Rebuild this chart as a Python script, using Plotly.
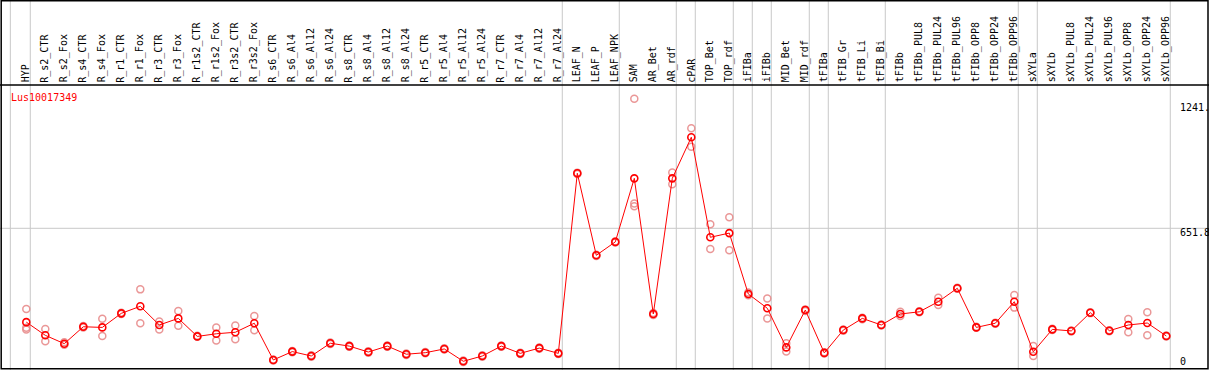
import plotly.graph_objects as go

title = "Lus10017349"

categories = [
    "HYP", "R_s2_CTR", "R_s2_Fox", "R_s4_CTR", "R_s4_Fox", "R_r1_CTR", "R_r1_Fox",
    "R_r3_CTR", "R_r3_Fox", "R_r1s2_CTR", "R_r1s2_Fox", "R_r3s2_CTR", "R_r3s2_Fox",
    "R_s6_CTR", "R_s6_Al4", "R_s6_Al12", "R_s6_Al24", "R_s8_CTR", "R_s8_Al4",
    "R_s8_Al12", "R_s8_Al24", "R_r5_CTR", "R_r5_Al4", "R_r5_Al12", "R_r5_Al24",
    "R_r7_CTR", "R_r7_Al4", "R_r7_Al12", "R_r7_Al24", "LEAF_N", "LEAF_P", "LEAF_NPK",
    "SAM", "AR_Bet", "AR_rdf", "cPAR", "TOP_Bet", "TOP_rdf", "iFIBa", "iFIBb",
    "MID_Bet", "MID_rdf", "tFIBa", "tFIB_Gr", "tFIB_Li", "tFIB_Bi", "tFIBb",
    "tFIBb_PUL8", "tFIBb_PUL24", "tFIBb_PUL96", "tFIBb_OPP8", "tFIBb_OPP24", "tFIBb_OPP96",
    "sXYLa", "sXYLb", "sXYLb_PUL8", "sXYLb_PUL24", "sXYLb_PUL96", "sXYLb_OPP8",
    "sXYLb_OPP24", "sXYLb_OPP96",
]

# number of consecutive categories in each separated group
group_sizes = [1, 28, 3, 3, 1, 2, 1, 1, 2, 1, 3, 7, 1, 7]

means = [
    225, 165, 127, 204, 201, 265, 297, 212, 242, 160, 172, 179, 220,
    53, 91, 71, 129, 116, 89, 116, 79, 86, 103, 47, 71, 116, 83, 107, 83,
    902, 529, 590, 879, 262, 879, 1066, 611, 630, 353, 288, 110, 280,
    85, 189, 242, 212, 262, 272, 318, 379, 201, 220, 318,
    90, 192, 185, 268, 186, 212, 221, 162,
]

replicates = [
    [285, 200, 192], [194, 138], [133, 122], [207, 201], [240, 162], [268, 262],
    [374, 220], [228, 192], [276, 209], [163, 158], [201, 142], [210, 147], [253, 188],
    [55, 50], [94, 88], [74, 68], [132, 126], [119, 113], [92, 86], [119, 113],
    [82, 76], [89, 83], [106, 100], [50, 44], [74, 68], [119, 113], [86, 80],
    [110, 104], [86, 80],
    [905, 899], [532, 526], [592, 587], [1241.5, 765, 752], [266, 258], [906, 852],
    [1107, 1023], [670, 558], [702, 552], [360, 347], [333, 242], [129, 91], [283, 276],
    [88, 82], [192, 186], [245, 238], [214, 210], [272, 253], [274, 270], [336, 303],
    [381, 377], [204, 199], [222, 218], [348, 291],
    [116, 71], [195, 189], [187, 183], [270, 266], [188, 184], [239, 179], [270, 165],
    [164, 160],
]

max_val = max(max(r) for r in replicates)
axis_top = max_val * 1.05
axis_mid = axis_top / 2
y_labels = [("%.1f" % max_val)[:5], "%.1f" % axis_mid, "0"]

W, H = 1209, 370
# pixel geometry
x0_px, dx_px = 26.3, 19.0
top_px, mid_px = 85.0, 228.3
scale = (mid_px - top_px) / axis_mid
zero_px = top_px + axis_top * scale

xr = [(0 - x0_px) / dx_px, (W - x0_px) / dx_px]
yr = [(zero_px - H) / scale, zero_px / scale]

xs = list(range(len(categories)))
rep_x, rep_y = [], []
for i, r in enumerate(replicates):
    for v in r:
        rep_x.append(i)
        rep_y.append(v)

fig = go.Figure()
fig.add_trace(go.Scatter(
    x=rep_x, y=rep_y, mode="markers",
    marker=dict(symbol="circle-open", size=7, color="rgba(232,140,140,0.9)",
                line=dict(width=1.5, color="rgba(232,140,140,0.9)")),
    hoverinfo="skip", showlegend=False,
))
fig.add_trace(go.Scatter(
    x=xs, y=means, mode="lines+markers",
    line=dict(color="#ff0000", width=1),
    marker=dict(symbol="circle-open", size=7, color="#ff0000",
                line=dict(width=1.6, color="#ff0000")),
    showlegend=False,
))

shapes = []
gray = "#c8c8c8"
# group separators
sep_positions = [-0.84]
acc = 0
for g in group_sizes:
    acc += g
    sep_positions.append(acc - 1 + 0.21)
for sx in sep_positions:
    shapes.append(dict(type="line", xref="x", yref="paper", x0=sx, x1=sx, y0=0, y1=1,
                       line=dict(color=gray, width=1), layer="below"))
# mid gridline
shapes.append(dict(type="line", xref="paper", yref="y", x0=0, x1=1, y0=axis_mid, y1=axis_mid,
                   line=dict(color=gray, width=1), layer="below"))
# header separator line
shapes.append(dict(type="line", xref="paper", yref="y", x0=0, x1=1, y0=axis_top, y1=axis_top,
                   line=dict(color="black", width=1.5)))
# outer frame
shapes.append(dict(type="rect", xref="paper", yref="paper",
                   x0=1.2 / W, x1=(W - 1.0) / W, y0=1.2 / H, y1=(H - 0.8) / H,
                   line=dict(color="black", width=1.5)))

annotations = []
font_mono = "DejaVu Sans Mono"
for i, c in enumerate(categories):
    annotations.append(dict(
        x=i - 0.03, y=(H - 83.5) / H, xref="x", yref="paper", text=c, showarrow=False,
        textangle=-90, xanchor="center", yanchor="bottom", borderpad=0,
        font=dict(family=font_mono, size=10, color="black"),
    ))
annotations.append(dict(
    x=9.5 / W, y=(H - 97.5) / H, xref="paper", yref="paper", text=title, showarrow=False,
    xanchor="left", yanchor="middle", borderpad=0,
    font=dict(family=font_mono, size=10, color="#ff0000"),
))
label_centers_px = [107.7, 232.0, 361.7]
for lab, cy in zip(y_labels, label_centers_px):
    annotations.append(dict(
        x=1178.5 / W, y=(H - cy) / H, xref="paper", yref="paper", text=lab, showarrow=False,
        xanchor="left", yanchor="middle", borderpad=0,
        font=dict(family=font_mono, size=10, color="black"),
    ))

fig.update_layout(
    width=W, height=H,
    margin=dict(l=0, r=0, t=0, b=0),
    paper_bgcolor="white", plot_bgcolor="white",
    xaxis=dict(range=xr, visible=False, fixedrange=True),
    yaxis=dict(range=yr, visible=False, fixedrange=True),
    shapes=shapes, annotations=annotations,
    showlegend=False,
)

fig.write_html(
    "out.html",
    config={"displayModeBar": False},
    post_script="document.body.style.margin='0';document.body.style.overflow='hidden';"
                "document.documentElement.style.overflow='hidden';",
)
